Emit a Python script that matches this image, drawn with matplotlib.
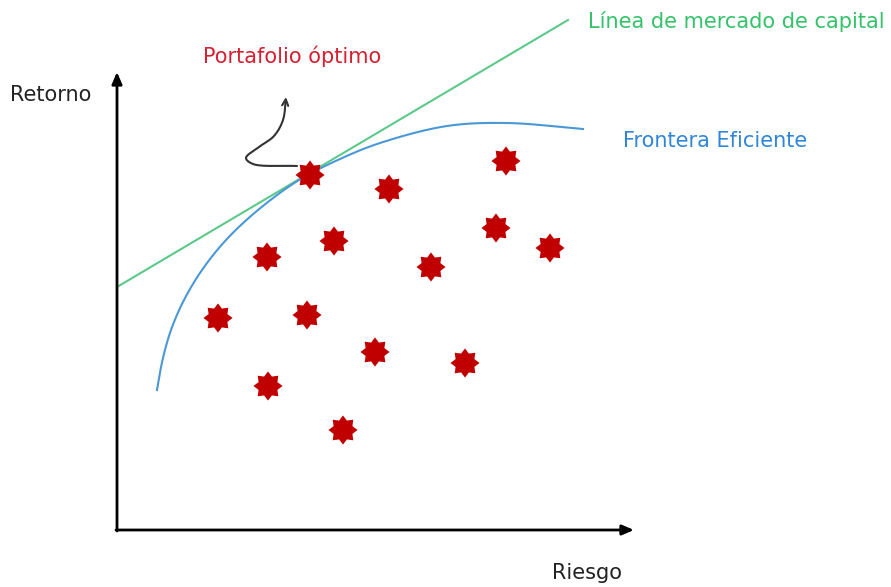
import numpy as np
import matplotlib
matplotlib.use("Agg")
import matplotlib.pyplot as plt
from matplotlib.path import Path

# Portfolios (risk, return)
port_risk = [1.93, 2.72, 3.89, 2.17, 1.50, 3.79, 4.33, 3.14, 1.01, 1.90, 2.58, 3.48, 1.51, 2.26]
port_ret = [3.55, 3.41, 3.69, 2.89, 2.73, 3.02, 2.82, 2.63, 2.12, 2.15, 1.78, 1.67, 1.44, 1.00]

# Efficient frontier (risk, return)
front_risk = [0.40, 0.455, 0.54, 0.67, 0.85, 1.09, 1.41, 1.82, 2.23, 2.63, 3.30, 3.90, 4.66]
front_ret = [1.40, 1.70, 2.00, 2.30, 2.60, 2.90, 3.20, 3.50, 3.71, 3.87, 4.04, 4.07, 4.01]

# Capital market line: intercept (risk-free return) and slope
cml_rf = 2.43
cml_slope = 0.592
cml_risk = [0.0, 4.51]

# Hand-drawn pointer towards the optimal portfolio label
ptr_x = [1.80, 1.36, 1.29, 1.42, 1.57, 1.66, 1.69]
ptr_y = [3.64, 3.66, 3.72, 3.83, 3.94, 4.10, 4.33]


def centripetal_spline(xs, ys, n=30, alpha=0.5):
    """Centripetal Catmull-Rom curve through the given points."""
    p = np.column_stack([xs, ys]).astype(float)
    p = np.vstack([2 * p[0] - p[1], p, 2 * p[-1] - p[-2]])
    out = []
    for i in range(1, len(p) - 2):
        p0, p1, p2, p3 = p[i - 1], p[i], p[i + 1], p[i + 2]
        t0 = 0.0
        t1 = t0 + np.linalg.norm(p1 - p0) ** alpha
        t2 = t1 + np.linalg.norm(p2 - p1) ** alpha
        t3 = t2 + np.linalg.norm(p3 - p2) ** alpha
        t = np.linspace(t1, t2, n, endpoint=False)[:, None]
        a1 = (t1 - t) / (t1 - t0) * p0 + (t - t0) / (t1 - t0) * p1
        a2 = (t2 - t) / (t2 - t1) * p1 + (t - t1) / (t2 - t1) * p2
        a3 = (t3 - t) / (t3 - t2) * p2 + (t - t2) / (t3 - t2) * p3
        b1 = (t2 - t) / (t2 - t0) * a1 + (t - t0) / (t2 - t0) * a2
        b2 = (t3 - t) / (t3 - t1) * a2 + (t - t1) / (t3 - t1) * a3
        c = (t2 - t) / (t2 - t1) * b1 + (t - t1) / (t2 - t1) * b2
        out.append(c)
    out.append(p[-2][None, :])
    out = np.vstack(out)
    return out[:, 0], out[:, 1]


def star_path(points=8, inner=0.7):
    ang = np.linspace(0, 2 * np.pi, 2 * points, endpoint=False) + np.pi / 2
    r = np.where(np.arange(2 * points) % 2 == 0, 1.0, inner)
    verts = np.column_stack([r * np.cos(ang), r * np.sin(ang)])
    verts = np.vstack([verts, verts[0]])
    codes = [Path.MOVETO] + [Path.LINETO] * (2 * points - 1) + [Path.CLOSEPOLY]
    return Path(verts, codes)


fig = plt.figure(figsize=(8.91, 5.87), dpi=100)
ax = fig.add_axes([0, 0, 1, 1])
ax.set_xlim(-1.17, 7.74)
ax.set_ylim(-0.57, 5.30)
ax.axis("off")

# Axes with arrowheads
ax.annotate("", xy=(0, 4.58), xytext=(0, -0.01),
            arrowprops=dict(arrowstyle="-|>,head_length=0.7,head_width=0.3",
                            color="black", lw=2, shrinkA=0, shrinkB=0))
ax.annotate("", xy=(5.17, 0), xytext=(-0.01, 0),
            arrowprops=dict(arrowstyle="-|>,head_length=0.7,head_width=0.3",
                            color="black", lw=2, shrinkA=0, shrinkB=0))

# Capital market line
cml_ret = [cml_rf + cml_slope * r for r in cml_risk]
ax.plot(cml_risk, cml_ret, color="#5cc98a", lw=1.5)

# Efficient frontier
fx, fy = centripetal_spline(front_risk, front_ret)
ax.plot(fx, fy, color="#4a98d6", lw=1.5)

# Portfolios
ax.scatter(port_risk, port_ret, s=440, marker=star_path(), color="#c00000",
           edgecolors="none", zorder=5)

# Pointer
px, py = centripetal_spline(ptr_x, ptr_y)
ax.plot(px[:-6], py[:-6], color="#333333", lw=1.5, solid_capstyle="round", zorder=4)
ax.annotate("", xy=(px[-1], py[-1]), xytext=(px[-8], py[-8]),
            arrowprops=dict(arrowstyle="->,head_length=0.45,head_width=0.22",
                            color="#333333", lw=1.5, shrinkA=0, shrinkB=0))

# Labels
ax.text(-1.07, 4.35, "Retorno", fontsize=15, color="#222222", va="center", ha="left")
ax.text(5.05, -0.43, "Riesgo", fontsize=15, color="#222222", va="center", ha="right")
ax.text(5.06, 3.89, "Frontera Eficiente", fontsize=15, color="#2f86d8", va="center", ha="left")
ax.text(4.71, 5.08, "Línea de mercado de capital", fontsize=15, color="#35c26a",
        va="center", ha="left")
ax.text(0.86, 4.74, "Portafolio óptimo", fontsize=15, color="#d42030", va="center", ha="left")

fig.savefig("out.png", dpi=100)
